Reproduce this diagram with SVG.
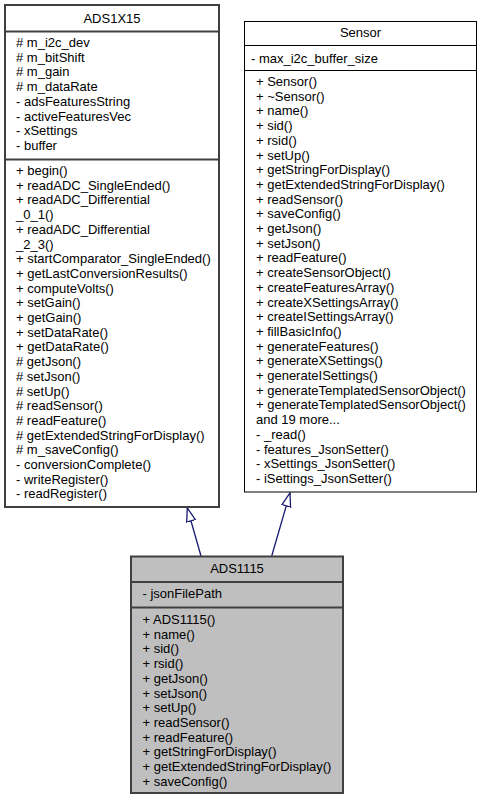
<svg xmlns="http://www.w3.org/2000/svg" width="482" height="800" viewBox="0 0 482 800">
<style>
text{font-family:"Liberation Sans",Arial,sans-serif;font-size:13px;fill:#000}
.t{text-anchor:middle}
.box{fill:#fff;stroke:#404040;stroke-width:2}
.boxs{fill:#fff;stroke:#000;stroke-width:1}
.cur{fill:#bfbfbf;stroke:#404040;stroke-width:2}
.sep{stroke:#404040;stroke-width:2}
.seps{stroke:#000;stroke-width:1}
.edge{stroke:#191970;stroke-width:1.3;fill:none;marker-end:url(#tri)}
</style>
<defs>
<marker id="tri" markerUnits="userSpaceOnUse" markerWidth="16" markerHeight="12" refX="14" refY="5" orient="auto">
<path d="M0.5,0.5 L14,5 L0.5,9.5 z" fill="#fff" stroke="#191970" stroke-width="1.3"/>
</marker>
</defs>
<rect width="482" height="800" fill="#fff"/>
<g id="connectors">
<line class="edge" x1="201" y1="556" x2="187.3" y2="508"/>
<line class="edge" x1="271.7" y1="556" x2="290" y2="493"/>
</g>
<g id="ADS1X15">
<rect class="box" x="5" y="5" width="214" height="502"/>
<line class="sep" x1="5" y1="31.5" x2="219" y2="31.5"/>
<line class="sep" x1="5" y1="159.5" x2="219" y2="159.5"/>
<text class="t" x="112" y="23.3">ADS1X15</text>
<text x="16" y="47"># m_i2c_dev</text>
<text x="16" y="61.7"># m_bitShift</text>
<text x="16" y="76.4"># m_gain</text>
<text x="16" y="91.1"># m_dataRate</text>
<text x="16" y="105.8">- adsFeaturesString</text>
<text x="16" y="120.5">- activeFeaturesVec</text>
<text x="16" y="135.2">- xSettings</text>
<text x="16" y="149.9">- buffer</text>
<text x="16" y="175">+ begin()</text>
<text x="16" y="189.7">+ readADC_SingleEnded()</text>
<text x="16" y="204.4">+ readADC_Differential</text>
<text x="16" y="219.1">_0_1()</text>
<text x="16" y="233.8">+ readADC_Differential</text>
<text x="16" y="248.5">_2_3()</text>
<text x="16" y="263.2">+ startComparator_SingleEnded()</text>
<text x="16" y="277.9">+ getLastConversionResults()</text>
<text x="16" y="292.6">+ computeVolts()</text>
<text x="16" y="307.3">+ setGain()</text>
<text x="16" y="322">+ getGain()</text>
<text x="16" y="336.7">+ setDataRate()</text>
<text x="16" y="351.4">+ getDataRate()</text>
<text x="16" y="366.1"># getJson()</text>
<text x="16" y="380.8"># setJson()</text>
<text x="16" y="395.5"># setUp()</text>
<text x="16" y="410.2"># readSensor()</text>
<text x="16" y="424.9"># readFeature()</text>
<text x="16" y="439.6"># getExtendedStringForDisplay()</text>
<text x="16" y="454.3"># m_saveConfig()</text>
<text x="16" y="469">- conversionComplete()</text>
<text x="16" y="483.7">- writeRegister()</text>
<text x="16" y="498.4">- readRegister()</text>
</g>
<g id="Sensor">
<rect class="boxs" x="244.5" y="21.5" width="232" height="470.5"/>
<line class="seps" x1="244.5" y1="45.5" x2="476.5" y2="45.5"/>
<line class="seps" x1="244.5" y1="70.5" x2="476.5" y2="70.5"/>
<text class="t" x="360.5" y="37.3">Sensor</text>
<text x="251" y="62.5">- max_i2c_buffer_size</text>
<text x="256" y="86">+ Sensor()</text>
<text x="256" y="100.7">+ ~Sensor()</text>
<text x="256" y="115.4">+ name()</text>
<text x="256" y="130.1">+ sid()</text>
<text x="256" y="144.8">+ rsid()</text>
<text x="256" y="159.5">+ setUp()</text>
<text x="256" y="174.2">+ getStringForDisplay()</text>
<text x="256" y="188.9">+ getExtendedStringForDisplay()</text>
<text x="256" y="203.6">+ readSensor()</text>
<text x="256" y="218.3">+ saveConfig()</text>
<text x="256" y="233">+ getJson()</text>
<text x="256" y="247.7">+ setJson()</text>
<text x="256" y="262.4">+ readFeature()</text>
<text x="256" y="277.1">+ createSensorObject()</text>
<text x="256" y="291.8">+ createFeaturesArray()</text>
<text x="256" y="306.5">+ createXSettingsArray()</text>
<text x="256" y="321.2">+ createISettingsArray()</text>
<text x="256" y="335.9">+ fillBasicInfo()</text>
<text x="256" y="350.6">+ generateFeatures()</text>
<text x="256" y="365.3">+ generateXSettings()</text>
<text x="256" y="380">+ generateISettings()</text>
<text x="256" y="394.7">+ generateTemplatedSensorObject()</text>
<text x="256" y="409.4">+ generateTemplatedSensorObject()</text>
<text x="256" y="424.1">and 19 more...</text>
<text x="256" y="438.8">- _read()</text>
<text x="256" y="453.5">- features_JsonSetter()</text>
<text x="256" y="468.2">- xSettings_JsonSetter()</text>
<text x="256" y="482.9">- iSettings_JsonSetter()</text>
</g>
<g id="ADS1115">
<rect class="cur" x="131" y="556.5" width="212" height="236.5"/>
<line class="sep" x1="131" y1="582" x2="343" y2="582"/>
<line class="sep" x1="131" y1="607.5" x2="343" y2="607.5"/>
<text class="t" x="237" y="572.7">ADS1115</text>
<text x="142.5" y="598">- jsonFilePath</text>
<text x="142.5" y="624">+ ADS1115()</text>
<text x="142.5" y="638.7">+ name()</text>
<text x="142.5" y="653.4">+ sid()</text>
<text x="142.5" y="668.1">+ rsid()</text>
<text x="142.5" y="682.8">+ getJson()</text>
<text x="142.5" y="697.5">+ setJson()</text>
<text x="142.5" y="712.2">+ setUp()</text>
<text x="142.5" y="726.9">+ readSensor()</text>
<text x="142.5" y="741.6">+ readFeature()</text>
<text x="142.5" y="756.3">+ getStringForDisplay()</text>
<text x="142.5" y="771">+ getExtendedStringForDisplay()</text>
<text x="142.5" y="785.7">+ saveConfig()</text>
</g>
</svg>
